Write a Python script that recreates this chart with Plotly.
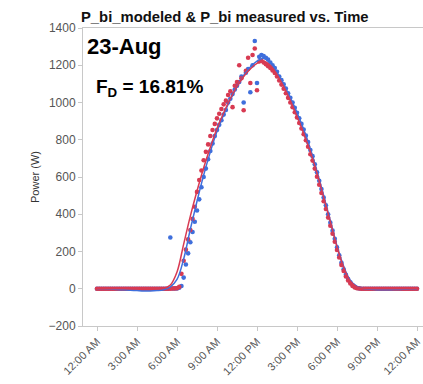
import plotly.graph_objects as go

# ---- data ----
# measured samples every 10 minutes, 00:00 .. 24:00 (hours)
time_measured = [i / 6 for i in range(145)]

blue_measured = [
    0, 0, 0, 0, 0, 0,
    0, 0, 0, 0, 0, 0,
    0, 0, 0, 0, 0, 0,
    0, 0, 0, 0, 0, 0,
    0, 0, 0, 0, 0, 0,
    0, 0, 0, 275, 1, 1,
    2, 5, 15, 60, 130, 190,
    250, 305, 360, 420, 480, 545,
    600, 645, 695, 740, 780, 820,
    852, 880, 905, 935, 960, 1000,
    1020, 1045, 1070, 1090, 1110, 1140,
    1000, 1160, 1180, 1055, 1200, 1330,
    1105, 1245, 1255, 1250, 1240, 1230,
    1215, 1200, 1185, 1165, 1140, 1120,
    1098, 1075, 1050, 1025, 1000, 972,
    945, 915, 885, 855, 822, 788,
    745, 712, 668, 625, 580, 535,
    490, 448, 400, 355, 312, 268,
    222, 180, 140, 105, 75, 52,
    35, 20, 10, 4, 2, 0,
    0, 0, 0, 0, 0, 0,
    0, 0, 0, 0, 0, 0,
    0, 0, 0, 0, 0, 0,
    0, 0, 0, 0, 0, 0,
    0,
]

red_measured = [
    0, 0, 0, 0, 0, 0,
    0, 0, 0, 0, 0, 0,
    0, 0, 0, 0, 0, 0,
    0, 0, 0, 0, 0, 0,
    0, 0, 0, 0, 0, 0,
    0, 0, 0, 0, 1, 2,
    3, 10, 80, 150, 210, 265,
    315, 375, 440, 520, 584, 635,
    690, 735, 775, 820, 852, 885,
    915, 940, 965, 990, 1010, 1040,
    1060, 975, 1090, 1110, 1200, 1130,
    958, 1170, 1240, 1105, 1255, 1290,
    1066, 1220, 1225, 1215, 1205, 1195,
    1185, 1172, 1158, 1140, 1118, 1096,
    1074, 1050, 1025, 1000, 975, 948,
    920, 890, 860, 830, 797, 763,
    722, 688, 645, 602, 558, 514,
    470, 428, 382, 338, 295, 252,
    208, 168, 128, 95, 66, 44,
    28, 15, 7, 3, 1, 0,
    0, 0, 0, 0, 0, 0,
    0, 0, 0, 0, 0, 0,
    0, 0, 0, 0, 0, 0,
    0, 0, 0, 0, 0, 0,
    0,
]

# modeled curves every 30 minutes, 00:00 .. 24:00
time_modeled = [i / 2 for i in range(49)]

red_modeled = [
    0, 0, 0, 0, 0, 0, 0, 0, 0, 0,
    2, 20, 90, 240, 390, 525, 650, 760, 860, 945,
    1020, 1085, 1140, 1180, 1210, 1222, 1200, 1150, 1085, 1010,
    925, 835, 735, 620, 490, 360, 225, 115, 40, 10,
    0, 0, 0, 0, 0, 0, 0, 0, 0,
]

blue_modeled = [
    0, 0, -2, -4, -6, -8, -10, -12, -12, -10,
    -5, 10, 50, 160, 320, 470, 610, 735, 845, 935,
    1015, 1085, 1145, 1190, 1222, 1238, 1215, 1162, 1098, 1025,
    945, 855, 750, 630, 500, 365, 230, 120, 45, 12,
    0, -3, -5, -5, -5, -4, -3, -2, -1,
]

tick_hours = [0, 3, 6, 9, 12, 15, 18, 21, 24]
tick_labels = ["12:00 AM", "3:00 AM", "6:00 AM", "9:00 AM", "12:00 PM",
               "3:00 PM", "6:00 PM", "9:00 PM", "12:00 AM"]
y_ticks = [-200, 0, 200, 400, 600, 800, 1000, 1200, 1400]

BLUE = "#3f6fdc"
RED = "#d83a52"

fig = go.Figure()
fig.add_trace(go.Scatter(x=time_measured, y=blue_measured, mode="markers",
                         marker=dict(color=BLUE, size=4.6), showlegend=False))
fig.add_trace(go.Scatter(x=time_measured, y=red_measured, mode="markers",
                         marker=dict(color=RED, size=4.6), showlegend=False))
fig.add_trace(go.Scatter(x=time_modeled, y=blue_modeled, mode="lines",
                         line=dict(color=BLUE, width=1.5, shape="spline"),
                         showlegend=False))
fig.add_trace(go.Scatter(x=time_modeled, y=red_modeled, mode="lines",
                         line=dict(color=RED, width=1.5, shape="spline"),
                         showlegend=False))

axis_col = "#c8c8c8"
fig.update_xaxes(range=[-1.05, 24.45], tickvals=tick_hours, ticktext=tick_labels,
                 tickangle=-45, showgrid=False, zeroline=False, automargin=False,
                 showline=True, linecolor=axis_col, linewidth=1, mirror=True,
                 ticks="outside", ticklen=4, tickcolor=axis_col,
                 tickfont=dict(family="Liberation Sans", size=11, color="#555555"))
fig.update_yaxes(range=[-200, 1400], tickvals=y_ticks, showgrid=False, zeroline=False,
                 automargin=False,
                 showline=True, linecolor=axis_col, linewidth=1,
                 ticks="outside", ticklen=4, tickcolor=axis_col,
                 tickfont=dict(family="Liberation Sans", size=12, color="#555555"))

fig.add_annotation(text="<b>P_bi_modeled & P_bi measured vs. Time</b>",
                   xref="paper", yref="paper", x=(225 - 83) / 340, y=1 + 11 / 298,
                   showarrow=False, xanchor="center", yanchor="middle",
                   font=dict(family="Liberation Sans", size=14.8, color="#111111"))
fig.add_annotation(text="<b>23-Aug</b>", xref="paper", yref="paper",
                   x=(85 - 83) / 340, y=(326 - 47) / 298, showarrow=False,
                   xanchor="left", yanchor="middle",
                   font=dict(family="Liberation Sans", size=22, color="#000000"))
fig.add_annotation(text="<b>F<sub>D</sub> = 16.81%</b>", xref="paper", yref="paper",
                   x=(94 - 83) / 340, y=(326 - 88) / 298, showarrow=False,
                   xanchor="left", yanchor="middle",
                   font=dict(family="Liberation Sans", size=19, color="#000000"))
fig.add_annotation(text="Power (W)", xref="paper", yref="paper",
                   x=(35 - 83) / 340, y=0.5, textangle=-90, showarrow=False,
                   xanchor="center", yanchor="middle",
                   font=dict(family="Liberation Sans", size=11, color="#333333"))

fig.update_layout(width=423, height=384,
                  margin=dict(l=83, r=0, t=28, b=58, autoexpand=False),
                  plot_bgcolor="white", paper_bgcolor="white")

fig.write_html("out.html", config={"displayModeBar": False},
               post_script="document.body.style.margin='0';document.body.style.padding='0';")
